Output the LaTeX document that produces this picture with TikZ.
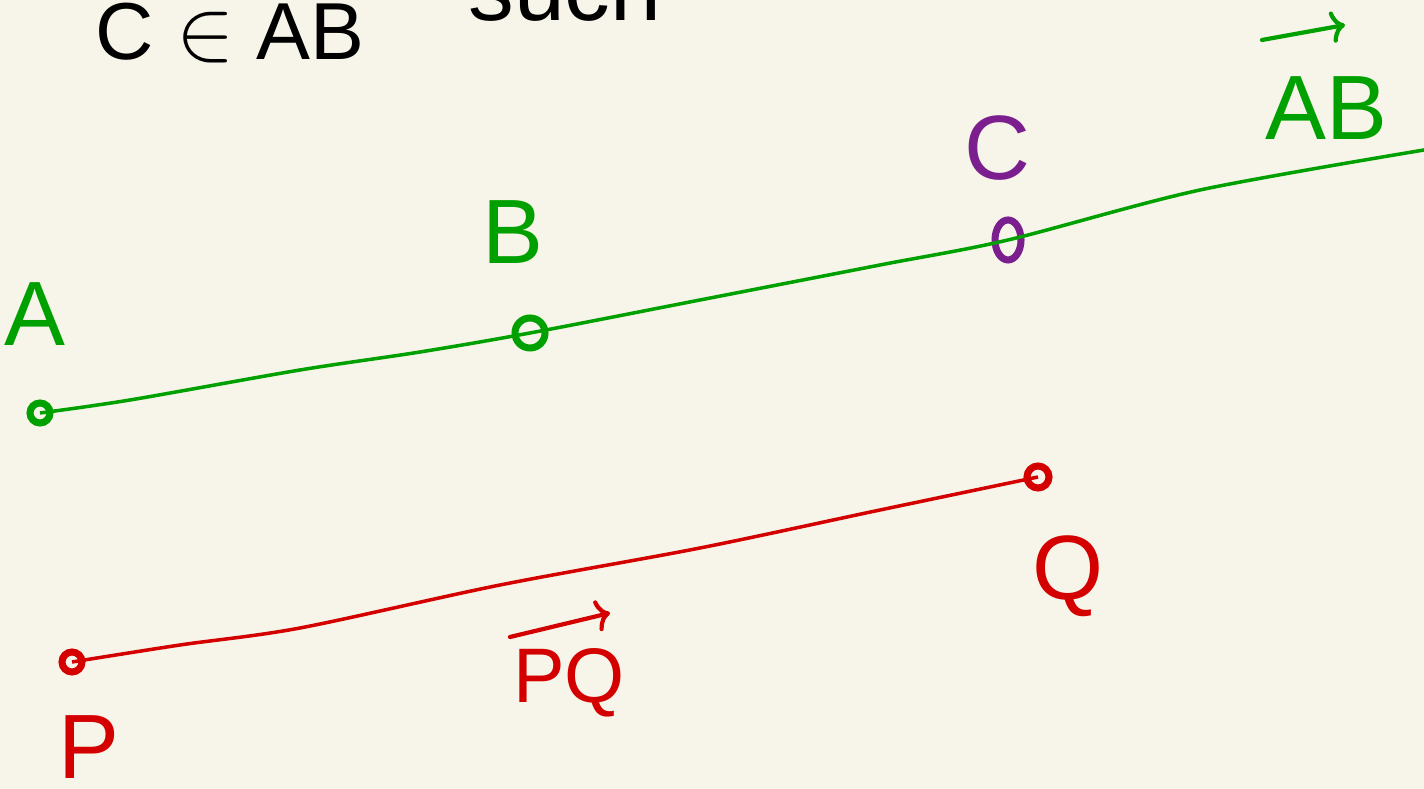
\documentclass[tikz,border=0pt]{standalone}
\usepackage{fontspec}
\setmainfont{Liberation Sans}
\usepackage{tikz}
\usetikzlibrary{calc, shapes.geometric, positioning, arrows.meta}

\definecolor{nen}{HTML}{F7F5E9}
\definecolor{xanh}{HTML}{00A000}
\definecolor{do}{HTML}{D40000}
\definecolor{tim}{HTML}{7B1F8F}

\begin{document}
\begin{tikzpicture}[>={To[length=4pt,width=9pt]},
    diem/.style={circle, draw, line width=2pt, inner sep=0pt, minimum size=0.2cm},
    nhan/.style={font=\fontsize{26}{30}\selectfont}]
    % Nền
    \fill[nen] (0,0) rectangle (14.24,7.89);
    \clip (0,0) rectangle (14.24,7.89);
    \useasboundingbox (0,0) rectangle (14.24,7.89);

    % Dòng chữ phía trên
    \node[anchor=base, font=\fontsize{23}{27}\selectfont] (tieude) at (2.30,7.29) {C $\in$ AB};
    \node[nhan, anchor=base] (tiep) at (5.65,7.68) {such};

    % Tia AB
    \node[diem, xanh] (A) at (0.40,3.76) {};
    \node[diem, xanh, minimum size=0.3cm] (B) at (5.30,4.56) {};
    \node[diem, tim, ellipse, minimum width=0.26cm, minimum height=0.40cm] (C) at (10.08,5.49) {};
    \coordinate (cuoi) at (14.30,6.40);
    \draw[xanh, line width=1pt] plot[smooth] coordinates
        {(A) (1.30,3.89) (3.00,4.19) (4.20,4.37) (B) (7.00,4.89) (8.80,5.24) (C) (12.00,5.99) (cuoi)};
    \node[nhan, xanh] (nhanA) at (0.35,4.75) {A};
    \node[nhan, xanh] (nhanB) at (5.13,5.57) {B};
    \node[nhan, tim] (nhanC) at (9.97,6.41) {C};
    \node[nhan, xanh, anchor=base] (tiaAB) at (13.26,6.49) {AB};
    \coordinate (goc1) at (12.62,7.49);
    \coordinate (ngon1) at (13.45,7.64);
    \draw[xanh, line width=1.2pt, line cap=round, ->] (goc1) -- (ngon1);

    % Đoạn PQ
    \node[diem, do] (P) at (0.72,1.27) {};
    \node[diem, do, minimum size=0.22cm] (Q) at (10.38,3.12) {};
    \draw[do, line width=1pt] plot[smooth] coordinates
        {(P) (1.80,1.44) (3.00,1.61) (5.00,2.04) (7.00,2.41) (8.80,2.79) (Q)};
    \node[nhan, do, anchor=base] (nhanP) at (0.89,0.10) {P};
    \node[nhan, do, anchor=base] (nhanQ) at (10.68,1.89) {Q};
    \node[do, anchor=base, font=\fontsize{22}{26}\selectfont] (tiaPQ) at (5.69,0.86) {PQ};
    \coordinate (goc2) at (5.10,1.52);
    \coordinate (ngon2) at (6.10,1.76);
    \draw[do, line width=1.2pt, line cap=round, ->] (goc2) -- (ngon2);
\end{tikzpicture}
\end{document}
